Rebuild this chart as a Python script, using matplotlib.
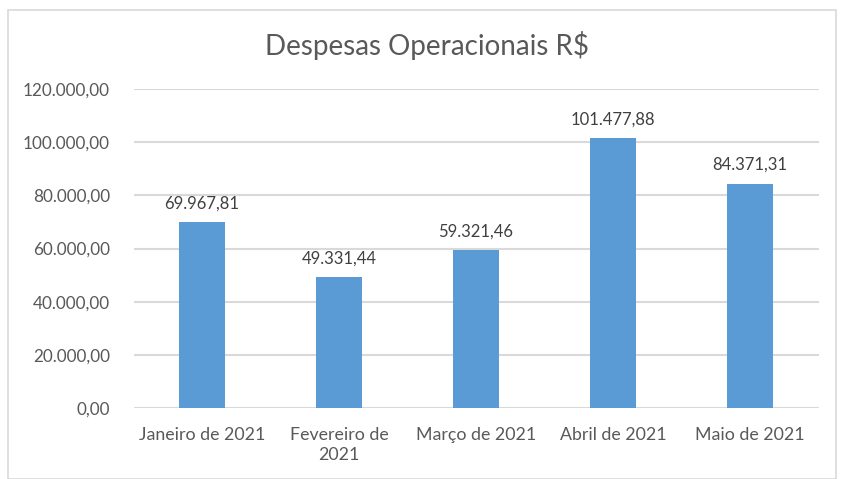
import numpy as np
import matplotlib
matplotlib.use('Agg')
import matplotlib.pyplot as plt
from matplotlib.patches import Rectangle

meses = ['Janeiro de 2021', 'Fevereiro de\n2021', 'Março de 2021', 'Abril de 2021', 'Maio de 2021']
valores = [69967.81, 49331.44, 59321.46, 101477.88, 84371.31]
yticks = [0, 20000, 40000, 60000, 80000, 100000, 120000]


def fmt_br(v):
    s = f"{v:,.2f}"
    return s.replace(',', 'X').replace('.', ',').replace('X', '.')


plt.rcParams['font.family'] = ['Lato', 'DejaVu Sans']
TXT = '#595959'

fig = plt.figure(figsize=(8.46, 4.79), dpi=100)
fig.patches.append(Rectangle((8 / 846, 0), 828 / 846, 1 - 10 / 479, transform=fig.transFigure,
                             fill=False, edgecolor='#D9D9D9', linewidth=1.2))

ax = fig.add_axes([133.5 / 846, 1 - 408 / 479, 685 / 846, 319 / 479])
x = np.arange(len(meses))
ax.bar(x, valores, width=0.34, color='#5B9BD5', zorder=3)
for xi, v in zip(x, valores):
    ax.text(xi, v + 4000, fmt_br(v), ha='center', va='bottom', fontsize=12, color='#404040')

ax.set_xlim(-0.5, len(meses) - 0.5)
ax.set_ylim(0, 120000)
ax.set_yticks(yticks)
ax.set_yticklabels([fmt_br(t) for t in yticks], fontsize=12.3, color=TXT)
ax.set_xticks(x)
ax.set_xticklabels(meses, fontsize=12.8, color=TXT, linespacing=1.3)
ax.tick_params(length=0, axis='y', pad=17)
ax.tick_params(length=0, axis='x', pad=14)
ax.grid(axis='y', color='#D9D9D9', linewidth=1.5, zorder=0)
for s in ax.spines.values():
    s.set_visible(False)

fig.text(427 / 846, 1 - 45 / 479, 'Despesas Operacionais R$', ha='center', va='center',
         fontsize=20, color=TXT)

fig.savefig('out.png', dpi=100)
